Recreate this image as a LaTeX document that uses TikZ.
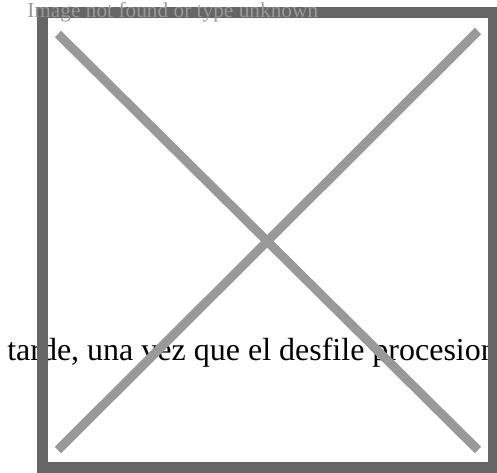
\documentclass[tikz,border=0pt]{standalone}
\usepackage{fontspec}
\setmainfont{Liberation Serif}
\usepackage[dvipsnames]{xcolor}
\usepackage{tikz}

\begin{document}
\begin{tikzpicture} [x=0.75pt, y=-0.75pt,
  frame/.style = {draw=black!60, line width = 8.25pt},
  cross/.style = {draw=black!40, line width = 6.75pt},
  caption/.style = {anchor=base west, inner sep=0pt, font=\fontsize{24pt}{26pt}\selectfont},
  missing/.style = {anchor=base west, inner sep=0pt, text=black!40, font=\fontsize{16pt}{18pt}\selectfont}]

\useasboundingbox (0,0) rectangle (497,472);
\clip (0,0) rectangle (497,472);

\node (line) at (7,360) [caption] {tarde, una vez que el desfile procesion};

\draw [frame] (42.5,12.5) rectangle (493,467);
\draw [cross] (58,34) -- (478,450);
\draw [cross] (58,450) -- (478,31);

\node (msg) at (27,17) [missing] {Image not found or type unknown};

\end{tikzpicture}
\end{document}
